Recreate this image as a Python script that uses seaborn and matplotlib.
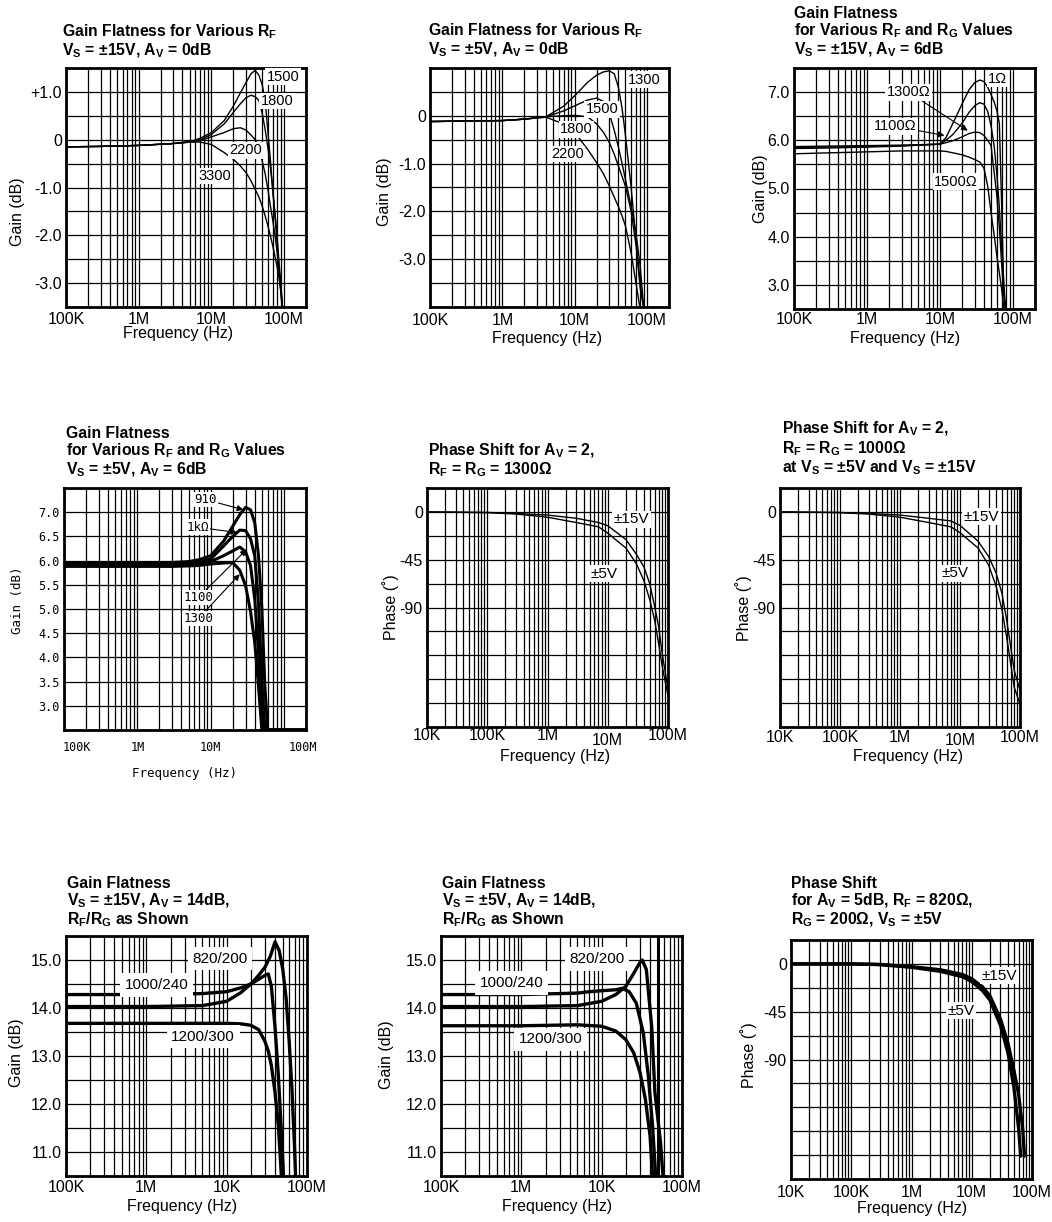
import numpy as np
import matplotlib
matplotlib.use("Agg")
import matplotlib.pyplot as plt
import matplotlib.transforms as mtransforms
from matplotlib.ticker import NullFormatter
import seaborn as sns

sns.set_theme(style="white")
plt.rcParams["font.family"] = ["Liberation Sans", "DejaVu Sans"]
plt.rcParams["mathtext.fontset"] = "custom"
plt.rcParams["mathtext.rm"] = "Liberation Sans"
plt.rcParams["mathtext.bf"] = "Liberation Sans:bold"
plt.rcParams["mathtext.it"] = "Liberation Sans:italic"
plt.rcParams["text.color"] = "black"
plt.rcParams["axes.labelcolor"] = "black"

MONO = ["DejaVu Sans Mono"]

# ---------------- values ----------------
# panel 1: gain flatness, Vs = +/-15V, Av = 0dB
p1_freq = [1e5, 3e5, 1e6, 3e6, 5e6, 7e6, 1e7, 1.5e7, 2e7, 2.5e7, 3e7, 3.5e7, 4e7,
           4.5e7, 5e7, 5.5e7, 6e7, 6.5e7, 7e7, 7.5e7, 8e7, 8.5e7, 9e7, 9.5e7]
p1_rf1500 = [-0.15, -0.14, -0.12, -0.08, -0.04, 0.03, 0.15, 0.40, 0.70, 0.98, 1.20, 1.38, 1.45,
             1.35, 1.15, 0.80, 0.15, -0.45, -1.10, -1.60, -2.15, -2.70, -3.20, -3.60]
p1_rf1800 = [-0.15, -0.14, -0.12, -0.08, -0.05, 0.00, 0.11, 0.33, 0.57, 0.75, 0.88, 0.93, 0.90,
             0.82, 0.55, 0.20, -0.18, -0.60, -1.05, -1.55, -2.00, -2.55, -3.00, -3.50]
p1_rf2200 = [-0.15, -0.14, -0.12, -0.08, -0.05, -0.02, 0.06, 0.15, 0.23, 0.25, 0.20, 0.10, 0.00,
             -0.22, -0.45, -0.72, -1.05, -1.40, -1.70, -2.00, -2.35, -2.70, -3.10, -3.50]
p1_rf3300 = [-0.15, -0.14, -0.12, -0.08, -0.05, -0.05, -0.10, -0.27, -0.41, -0.55, -0.69, -0.86, -1.04,
             -1.20, -1.39, -1.60, -1.81, -2.02, -2.23, -2.45, -2.65, -2.90, -3.15, -3.50]

# panel 2: gain flatness, Vs = +/-5V, Av = 0dB
p2_freq = [1e5, 3e5, 1e6, 2e6, 4e6, 7e6, 1e7, 1.5e7, 2e7, 2.5e7, 3e7, 3.5e7, 4e7, 4.5e7,
           5e7, 6e7, 7e7, 8e7, 9e7]
p2_rf1300 = [-0.12, -0.11, -0.10, -0.07, -0.02, 0.20, 0.42, 0.70, 0.85, 0.92, 0.94, 0.88, 0.60, 0.15,
             -0.40, -1.50, -2.60, -3.50, -4.05]
p2_rf1500 = [-0.12, -0.11, -0.10, -0.07, -0.02, 0.10, 0.21, 0.33, 0.37, 0.30, 0.05, -0.30, -0.65, -1.00,
             -1.33, -1.90, -2.45, -3.15, -4.05]
p2_rf1800 = [-0.12, -0.11, -0.10, -0.07, -0.02, 0.00, 0.01, -0.02, -0.17, -0.35, -0.56, -0.80, -1.05,
             -1.27, -1.47, -2.00, -2.70, -3.60, -4.05]
p2_rf2200 = [-0.12, -0.11, -0.10, -0.07, -0.03, -0.17, -0.35, -0.70, -0.98, -1.22, -1.47, -1.70, -1.90,
             -2.10, -2.30, -2.87, -3.50, -4.05]

# panel 3: Vs = +/-15V, Av = 6dB
p3_freq = [1e5, 3e5, 1e6, 3e6, 1e7, 1.2e7, 1.5e7, 2e7, 2.5e7, 3e7, 3.5e7, 4e7, 4.5e7, 5e7,
           5.5e7, 6e7, 6.5e7, 7e7, 7.5e7, 8e7]
p3_1ohm = [5.83, 5.84, 5.86, 5.88, 5.92, 6.05, 6.35, 6.75, 7.05, 7.20, 7.25, 7.22, 7.10, 6.95,
           6.80, 6.62, 6.35, 4.60, 2.80, 2.40]
p3_1100 = [5.85, 5.86, 5.87, 5.89, 5.92, 6.00, 6.12, 6.35, 6.58, 6.72, 6.78, 6.75, 6.60, 6.30,
           5.90, 5.30, 4.60, 3.75, 3.00, 2.40]
p3_1300 = [5.87, 5.88, 5.89, 5.90, 5.92, 5.95, 5.99, 6.07, 6.14, 6.17, 6.16, 6.10, 6.00, 5.89,
           5.35, 4.85, 4.20, 3.40, 2.80, 2.40]
p3_1500 = [5.72, 5.74, 5.76, 5.78, 5.78, 5.77, 5.74, 5.70, 5.65, 5.60, 5.55, 5.42, 5.05, 4.50,
           4.05, 3.60, 3.25, 2.90, 2.50]

# panel 4: Vs = +/-5V, Av = 6dB
p4_freq = [1e5, 3e5, 1e6, 3e6, 5e6, 7e6, 1e7, 1.5e7, 2e7, 2.5e7, 3e7, 3.5e7, 4e7, 4.5e7,
           5e7, 5.5e7, 6e7, 1e8, 2e8]
p4_910 = [5.96, 5.96, 5.96, 5.96, 5.98, 6.02, 6.10, 6.40, 6.71, 6.95, 7.10, 7.05, 6.78, 6.10,
          5.00, 3.40, 2.50, 2.50, 2.50]
p4_1k = [5.94, 5.94, 5.94, 5.94, 5.95, 5.97, 6.03, 6.30, 6.50, 6.63, 6.62, 6.45, 6.10, 5.10,
         3.50, 2.50, 2.50, 2.50, 2.50]
p4_1100 = [5.90, 5.90, 5.90, 5.90, 5.91, 5.93, 5.98, 6.10, 6.20, 6.28, 6.18, 5.90, 5.20, 4.10,
           2.80, 2.50, 2.50, 2.50, 2.50]
p4_1300 = [5.88, 5.88, 5.88, 5.88, 5.89, 5.90, 5.93, 5.95, 5.96, 5.80, 5.48, 4.95, 4.30, 3.40,
           2.50, 2.50, 2.50, 2.50, 2.50]

# panel 5: phase, Rf = Rg = 1300 ohm
p5_freq = [1e4, 1e5, 3e5, 1e6, 3e6, 7e6, 1e7, 2e7, 3e7, 4e7, 5e7, 6e7, 7e7, 8e7, 1e8]
p5_15v = [0, -0.5, -1.5, -3, -6, -10, -13, -26, -40, -52, -68, -89, -108, -133, -167]
p5_5v = [0, -0.7, -2, -5, -10, -14, -20, -34, -49, -65, -83, -102, -124, -145, -173]

# panel 6: phase, Rf = Rg = 1000 ohm
p6_freq = [1e4, 1e5, 3e5, 1e6, 3e6, 7e6, 1e7, 2e7, 3e7, 4e7, 5e7, 6e7, 7e7, 8e7, 1e8]
p6_15v = [0, -0.5, -1.5, -3, -6, -8.5, -12.7, -27.5, -42, -57.6, -76.6, -102, -127, -149, -168]
p6_5v = [0, -0.7, -2, -5, -10, -14, -19.6, -34, -50, -70, -92, -118, -143, -165, -181]

# panel 7: Vs = +/-15V, Av = 14dB
p7_820_freq = [1e5, 1e6, 5e6, 1e7, 1.5e7, 2e7, 2.5e7, 3e7, 3.5e7, 4e7, 4.5e7, 5e7, 5.5e7,
               6e7, 6.5e7, 7e7, 7.2e7]
p7_820 = [14.03, 14.03, 14.05, 14.14, 14.32, 14.50, 14.68, 14.85, 15.08, 15.38, 15.20, 14.80,
          14.20, 13.30, 12.30, 11.10, 10.50]
p7_1000_freq = [1e5, 1e6, 5e6, 1e7, 1.5e7, 2e7, 2.5e7, 3e7, 3.3e7, 3.6e7, 4e7, 4.4e7, 4.8e7, 5.1e7]
p7_1000 = [14.28, 14.28, 14.30, 14.34, 14.42, 14.50, 14.60, 14.68, 14.71, 14.45, 13.60, 12.59,
           11.41, 10.50]
p7_1200_freq = [1e5, 1e6, 1e7, 1.5e7, 2e7, 2.5e7, 3e7, 3.3e7, 3.6e7, 4e7, 4.4e7, 4.8e7]
p7_1200 = [13.68, 13.68, 13.68, 13.67, 13.64, 13.55, 13.30, 13.10, 12.80, 12.24, 11.55, 10.50]

# panel 8: Vs = +/-5V, Av = 14dB
p8_820_freq = [1e5, 1e6, 5e6, 1e7, 1.5e7, 2e7, 2.5e7, 3e7, 3.2e7, 3.6e7, 4.2e7, 4.6e7, 5.4e7, 5.8e7]
p8_820 = [14.03, 14.03, 14.05, 14.14, 14.28, 14.45, 14.72, 14.95, 15.00, 14.80, 13.60, 12.24,
          11.20, 10.50]
p8_1000_freq = [1e5, 1e6, 5e6, 7e6, 1e7, 1.5e7, 1.8e7, 2.2e7, 2.7e7, 3.3e7, 3.8e7, 4.3e7, 4.7e7]
p8_1000 = [14.28, 14.28, 14.31, 14.34, 14.36, 14.38, 14.41, 14.34, 14.10, 13.48, 12.60, 11.55, 10.50]
p8_1200_freq = [1e5, 1e6, 5e6, 1e7, 1.5e7, 2e7, 2.5e7, 3e7, 3.5e7, 4e7, 4.3e7]
p8_1200 = [13.63, 13.63, 13.65, 13.62, 13.52, 13.34, 13.07, 12.66, 12.10, 11.34, 10.50]

# panel 9: phase, Av = 5dB, Rf = 820, Rg = 200
p9_15v_freq = [1e4, 1e5, 3e5, 1e6, 3e6, 7e6, 1e7, 1.5e7, 2e7, 3e7, 4e7, 5e7, 6e7, 7e7, 7.5e7]
p9_15v = [0, 0, -0.5, -2.6, -5.5, -10, -14, -21.5, -30, -52, -75, -100, -123, -155, -181]
p9_5v_freq = [1e4, 1e5, 3e5, 1e6, 3e6, 7e6, 1e7, 1.5e7, 2e7, 3e7, 4e7, 5e7, 6e7, 6.5e7]
p9_5v = [0, 0, -0.7, -3.2, -7, -12, -16.7, -25, -34, -58, -84, -116, -155, -181]

# tick labels as printed on the sheet
x_lbl_100k = ["100K", "1M", "10M", "100M"]
x_lbl_10k = ["10K", "100K", "1M", "10M", "100M"]
x_lbl_14db = ["100K", "1M", "10K", "100M"]
phase_lbl = ["0", "-45", "-90"]

W, H = 1052, 1222
fig = plt.figure(figsize=(W / 100, H / 100), dpi=100)
fig.patch.set_facecolor("white")


def make_axes(box, xlim, ylim, ystep, yticks, yticklabels, xticks, xticklabels,
              xpad=3, family=None, tick_size=11.5):
    l, r, t, b = box
    ax = fig.add_axes([l / W, 1 - b / H, (r - l) / W, (b - t) / H])
    ax.set_xscale("log")
    ax.set_xlim(xlim)
    ax.set_ylim(ylim)
    lo, hi = int(round(np.log10(xlim[0]))), int(np.ceil(np.log10(xlim[1])))
    minor = [k * 10.0 ** d for d in range(lo, hi) for k in range(2, 10)]
    ax.set_xticks([m for m in minor if m <= xlim[1] * 1.001], minor=True)
    ax.set_xticks(xticks, xticklabels)
    ax.xaxis.set_minor_formatter(NullFormatter())
    ax.set_yticks(np.arange(ylim[0], ylim[1] + ystep / 2, ystep), minor=True)
    ax.set_yticks(yticks, yticklabels)
    ax.yaxis.set_minor_formatter(NullFormatter())
    ax.grid(True, which="both", color="black", lw=0.9)
    ax.tick_params(which="both", length=0, labelsize=tick_size, colors="black")
    ax.tick_params(axis="x", pad=xpad)
    ax.tick_params(axis="y", pad=3)
    for s in ax.spines.values():
        s.set_color("black")
        s.set_linewidth(2)
        s.set_zorder(4)
    if family:
        for lab in ax.get_xticklabels() + ax.get_yticklabels():
            lab.set_family(family)
    return ax


def curve(ax, freq, vals, lw):
    sns.lineplot(x=freq[:len(vals)], y=vals, ax=ax, color="black", lw=lw,
                 estimator=None, sort=False)


def labels(ax, box, ylabel, xc, yc, ylx, yly, size=11.5, family=None):
    l, r, t, b = box
    ax.set_xlabel("Frequency (Hz)", fontsize=size, family=family)
    ax.set_ylabel(ylabel, fontsize=size, family=family)
    ax.xaxis.set_label_coords((xc - l) / (r - l), -(yc - 8 - b) / (b - t))
    ax.yaxis.set_label_coords((ylx + 9 - l) / (r - l), (b - yly) / (b - t))


def title(ax, s, dx=0, dy=8):
    ax.annotate(s, xy=(0, 1), xycoords="axes fraction", xytext=(dx, dy),
                textcoords="offset pixels", ha="left", va="bottom",
                fontsize=11.3, fontweight="bold", linespacing=1.05)


def tag(ax, x, y, s, size=10.5, pad=0.1, family=None):
    ax.text(x, y, s, ha="center", va="center", fontsize=size, family=family, zorder=5,
            bbox=dict(boxstyle=f"square,pad={pad}", fc="white", ec="none"))


def arrow_tag(ax, s, target, pos, size=10.5, family=None):
    ax.annotate(s, xy=target, xytext=pos, ha="center", va="center", fontsize=size,
                family=family, zorder=5,
                bbox=dict(boxstyle="square,pad=0.1", fc="white", ec="none"),
                arrowprops=dict(arrowstyle="-|>", color="black", lw=0.8,
                                mutation_scale=9, shrinkA=0, shrinkB=0))


def nudge(ax, shifts):
    for lab in ax.get_xticklabels():
        if lab.get_text() in shifts:
            dx, dy = shifts[lab.get_text()]
            lab.set_transform(lab.get_transform() + mtransforms.ScaledTranslation(
                dx / 100, dy / 100, fig.dpi_scale_trans))


# ---------------- panel 1 ----------------
b1 = (66, 306, 68, 307)
ax = make_axes(b1, (1e5, 2e8), (-3.5, 1.5), 0.5, [1, 0, -1, -2, -3],
               ["+1.0", "0", "-1.0", "-2.0", "-3.0"], [1e5, 1e6, 1e7, 1e8], x_lbl_100k, xpad=3.5)
for v in (p1_rf1500, p1_rf1800, p1_rf2200, p1_rf3300):
    curve(ax, p1_freq, v, 1.0)
tag(ax, 9.6e7, 1.32, "1500")
tag(ax, 8.0e7, 0.81, "1800")
tag(ax, 3.0e7, -0.22, "2200")
tag(ax, 1.1e7, -0.76, "3300")
labels(ax, b1, "Gain (dB)", 178, 334, 16, 212)
title(ax, "Gain Flatness for Various $\\mathbf{R_F}$\n$\\mathbf{V_S}$ = ±15V, $\\mathbf{A_V}$ = 0dB",
      dx=-4, dy=8)

# ---------------- panel 2 ----------------
b2 = (430, 669, 68, 307)
ax = make_axes(b2, (1e5, 2e8), (-4.0, 1.0), 0.5, [0, -1, -2, -3],
               ["0", "-1.0", "-2.0", "-3.0"], [1e5, 1e6, 1e7, 1e8], x_lbl_100k, xpad=4.5)
for v in (p2_rf1300, p2_rf1500, p2_rf1800, p2_rf2200):
    curve(ax, p2_freq, v, 1.0)
tag(ax, 9.2e7, 0.75, "1300")
tag(ax, 2.4e7, 0.14, "1500")
tag(ax, 1.05e7, -0.28, "1800")
tag(ax, 7.9e6, -0.80, "2200")
labels(ax, b2, "Gain (dB)", 547, 339, 383, 192)
title(ax, "Gain Flatness for Various $\\mathbf{R_F}$\n$\\mathbf{V_S}$ = ±5V, $\\mathbf{A_V}$ = 0dB",
      dx=-2, dy=9)

# ---------------- panel 3 ----------------
b3 = (794, 1035, 68, 309)
ax = make_axes(b3, (1e5, 2e8), (2.5, 7.5), 0.5, [7, 6, 5, 4, 3],
               ["7.0", "6.0", "5.0", "4.0", "3.0"], [1e5, 1e6, 1e7, 1e8], x_lbl_100k, xpad=2)
for v in (p3_1ohm, p3_1100, p3_1300, p3_1500):
    curve(ax, p3_freq, v, 1.0)
tag(ax, 6.2e7, 7.28, "1Ω")
arrow_tag(ax, "1300Ω", (2.4e7, 6.2), (3.7e6, 7.0))
arrow_tag(ax, "1100Ω", (1.15e7, 6.1), (2.45e6, 6.29))
tag(ax, 1.65e7, 5.14, "1500Ω")
labels(ax, b3, "Gain (dB)", 905, 339, 759, 189)
title(ax, "Gain Flatness\nfor Various $\\mathbf{R_F}$ and $\\mathbf{R_G}$ Values\n"
          "$\\mathbf{V_S}$ = ±15V, $\\mathbf{A_V}$ = 6dB", dx=0, dy=9)

# ---------------- panel 4 ----------------
b4 = (64, 306, 488, 730)
ax = make_axes(b4, (1e5, 2e8), (2.5, 7.5), 0.5, [7, 6.5, 6, 5.5, 5, 4.5, 4, 3.5, 3],
               ["7.0", "6.5", "6.0", "5.5", "5.0", "4.5", "4.0", "3.5", "3.0"],
               [1e5, 1e6, 1e7, 1e8], x_lbl_100k, xpad=8, family=MONO, tick_size=8.5)
for v in (p4_910, p4_1k, p4_1100, p4_1300):
    curve(ax, p4_freq, v, 2.2)
arrow_tag(ax, "910", (2.8e7, 7.05), (8.6e6, 7.26), size=9, family=MONO)
arrow_tag(ax, "1kΩ", (2.3e7, 6.58), (6.6e6, 6.69), size=9, family=MONO)
arrow_tag(ax, "1100", (3.1e7, 6.23), (6.8e6, 5.24), size=9, family=MONO)
arrow_tag(ax, "1300", (2.5e7, 5.72), (6.8e6, 4.80), size=9, family=MONO)
labels(ax, b4, "Gain (dB)", 185, 775, 15, 600, size=9, family=MONO)
nudge(ax, {"100K": (13, 0), "100M": (19, 0)})
title(ax, "Gain Flatness\nfor Various $\\mathbf{R_F}$ and $\\mathbf{R_G}$ Values\n"
          "$\\mathbf{V_S}$ = ±5V, $\\mathbf{A_V}$ = 6dB", dx=2, dy=9)

# ---------------- panel 5 ----------------
b5 = (427, 668, 488, 727)
ax = make_axes(b5, (1e4, 1e8), (-202.5, 22.5), 22.5, [0, -45, -90], phase_lbl,
               [1e4, 1e5, 1e6, 1e7, 1e8], x_lbl_10k, xpad=1)
curve(ax, p5_freq, p5_15v, 1.0)
curve(ax, p5_freq, p5_5v, 1.0)
tag(ax, 2.5e7, -7, "±15V", size=11)
tag(ax, 8.8e6, -58, "±5V", size=11)
labels(ax, b5, "Phase (˚)", 555, 757, 390, 607)
nudge(ax, {"10M": (0, -5)})
title(ax, "Phase Shift for $\\mathbf{A_V}$ = 2,\n$\\mathbf{R_F}$ = $\\mathbf{R_G}$ = 1300Ω", dx=1, dy=9)

# ---------------- panel 6 ----------------
b6 = (780, 1020, 488, 727)
ax = make_axes(b6, (1e4, 1e8), (-202.5, 22.5), 22.5, [0, -45, -90], phase_lbl,
               [1e4, 1e5, 1e6, 1e7, 1e8], x_lbl_10k, xpad=2)
curve(ax, p6_freq, p6_15v, 1.0)
curve(ax, p6_freq, p6_5v, 1.0)
tag(ax, 2.3e7, -4.5, "±15V", size=11)
tag(ax, 8.3e6, -57.6, "±5V", size=11)
labels(ax, b6, "Phase (˚)", 908, 757, 743, 608)
nudge(ax, {"10M": (0, -3)})
title(ax, "Phase Shift for $\\mathbf{A_V}$ = 2,\n$\\mathbf{R_F}$ = $\\mathbf{R_G}$ = 1000Ω\n"
          "at $\\mathbf{V_S}$ = ±5V and $\\mathbf{V_S}$ = ±15V", dx=2, dy=11)

# ---------------- panel 7 ----------------
b7 = (66, 307, 936, 1176)
ax = make_axes(b7, (1e5, 1e8), (10.5, 15.5), 0.5, [15, 14, 13, 12, 11],
               ["15.0", "14.0", "13.0", "12.0", "11.0"], [1e5, 1e6, 1e7, 1e8], x_lbl_14db, xpad=3)
curve(ax, p7_820_freq, p7_820, 2.4)
curve(ax, p7_1000_freq, p7_1000, 2.4)
curve(ax, p7_1200_freq, p7_1200, 2.4)
tag(ax, 8.3e6, 15.03, "820/200", size=11, pad=0.3)
tag(ax, 1.35e6, 14.48, "1000/240", size=11, pad=0.3)
tag(ax, 5.1e6, 13.40, "1200/300", size=11, pad=0.3)
labels(ax, b7, "Gain (dB)", 182, 1207, 15, 1053)
title(ax, "Gain Flatness\n$\\mathbf{V_S}$ = ±15V, $\\mathbf{A_V}$ = 14dB,\n"
          "$\\mathbf{R_F}$/$\\mathbf{R_G}$ as Shown", dx=1, dy=7)

# ---------------- panel 8 ----------------
b8 = (441, 682, 936, 1176)
ax = make_axes(b8, (1e5, 1e8), (10.5, 15.5), 0.5, [15, 14, 13, 12, 11],
               ["15.0", "14.0", "13.0", "12.0", "11.0"], [1e5, 1e6, 1e7, 1e8], x_lbl_14db, xpad=3)
ax.axvline(5e7, color="black", lw=2.2)
curve(ax, p8_820_freq, p8_820, 2.4)
curve(ax, p8_1000_freq, p8_1000, 2.4)
curve(ax, p8_1200_freq, p8_1200, 2.4)
tag(ax, 8.7e6, 15.02, "820/200", size=11, pad=0.3)
tag(ax, 7.6e5, 14.52, "1000/240", size=11, pad=0.3)
tag(ax, 2.3e6, 13.35, "1200/300", size=11, pad=0.3)
labels(ax, b8, "Gain (dB)", 557, 1207, 385, 1055)
title(ax, "Gain Flatness\n$\\mathbf{V_S}$ = ±5V, $\\mathbf{A_V}$ = 14dB,\n"
          "$\\mathbf{R_F}$/$\\mathbf{R_G}$ as Shown", dx=1, dy=7)

# ---------------- panel 9 ----------------
b9 = (791, 1032, 940, 1179)
ax = make_axes(b9, (1e4, 1e8), (-202.5, 22.5), 22.5, [0, -45, -90], phase_lbl,
               [1e4, 1e5, 1e6, 1e7, 1e8], x_lbl_10k, xpad=4)
curve(ax, p9_15v_freq, p9_15v, 2.4)
curve(ax, p9_5v_freq, p9_5v, 2.4)
tag(ax, 2.9e7, -11, "±15V", size=11)
tag(ax, 6.6e6, -44, "±5V", size=11)
labels(ax, b9, "Phase (˚)", 912, 1209, 748, 1055)
title(ax, "Phase Shift\nfor $\\mathbf{A_V}$ = 5dB, $\\mathbf{R_F}$ = 820Ω,\n"
          "$\\mathbf{R_G}$ = 200Ω, $\\mathbf{V_S}$ = ±5V", dx=0, dy=11)

fig.savefig("out.png", dpi=100, facecolor="white")
